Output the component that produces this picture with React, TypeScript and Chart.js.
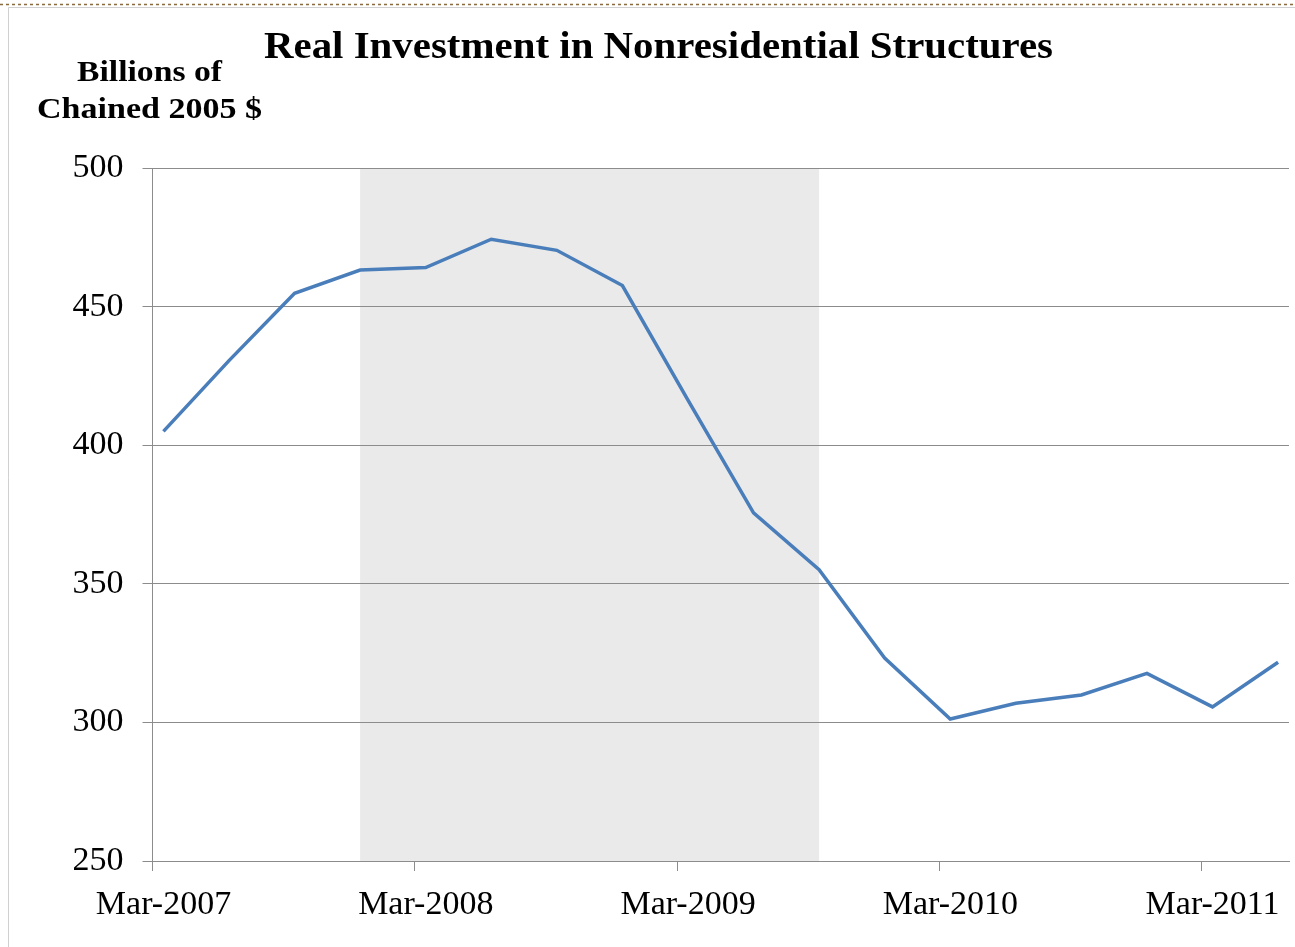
import React, { useEffect, useRef } from "react";
import { Chart, registerables } from "chart.js";

Chart.register(...registerables);

const quarters = [
  "Mar-2007", "Jun-2007", "Sep-2007", "Dec-2007",
  "Mar-2008", "Jun-2008", "Sep-2008", "Dec-2008",
  "Mar-2009", "Jun-2009", "Sep-2009", "Dec-2009",
  "Mar-2010", "Jun-2010", "Sep-2010", "Dec-2010",
  "Mar-2011", "Jun-2011",
];
const investment = [
  405.0, 430.5, 454.8, 463.2,
  464.1, 474.3, 470.3, 457.6,
  416.3, 375.6, 355.1, 323.2,
  301.2, 306.9, 309.9, 317.7,
  305.6, 321.7,
];
const tickLabels = ["Mar-2007", "Mar-2008", "Mar-2009", "Mar-2010", "Mar-2011"];
const recessionStart = "Dec-2007";
const recessionEnd = "Sep-2009";
const yTicks = [250, 300, 350, 400, 450, 500];

const titleText = "Real Investment in Nonresidential Structures";
const yTitleLines = ["Billions of", "Chained 2005 $"];

// month index (0 = March 2007) of the middle of a quarter-end month
const monthCenter = (label: string) => quarters.indexOf(label) * 3 + 0.5;
const monthStart = (label: string) => quarters.indexOf(label) * 3;

const SERIF = '"Liberation Serif", "Times New Roman", serif';

function drawFit(
  ctx: CanvasRenderingContext2D,
  text: string,
  left: number,
  right: number,
  baseline: number
) {
  const w = ctx.measureText(text).width;
  ctx.save();
  ctx.textAlign = "left";
  ctx.textBaseline = "alphabetic";
  ctx.translate(left, baseline);
  ctx.scale((right - left) / w, 1);
  ctx.fillText(text, 0, 0);
  ctx.restore();
}

const decorPlugin = {
  id: "decor",
  beforeDraw(chart: any) {
    const { ctx, chartArea, scales } = chart;
    const x = scales.x;
    ctx.save();
    ctx.fillStyle = "#ffffff";
    ctx.fillRect(0, 0, chart.width, chart.height);
    // recession shading
    const x0 = x.getPixelForValue(monthCenter(recessionStart));
    const x1 = x.getPixelForValue(monthCenter(recessionEnd));
    ctx.fillStyle = "#EAEAEA";
    ctx.fillRect(x0, chartArea.top, x1 - x0, chartArea.bottom - chartArea.top);
    ctx.restore();
  },
  afterDraw(chart: any) {
    const { ctx } = chart;
    ctx.save();
    // frame
    ctx.strokeStyle = "#8B6A3E";
    ctx.lineWidth = 1.5;
    ctx.setLineDash([3, 3]);
    ctx.beginPath();
    ctx.moveTo(0, 4.5);
    ctx.lineTo(chart.width, 4.5);
    ctx.stroke();
    ctx.setLineDash([]);
    ctx.strokeStyle = "#D0D0D0";
    ctx.lineWidth = 1;
    ctx.beginPath();
    ctx.moveTo(8.5, chart.height);
    ctx.lineTo(8.5, 7.5);
    ctx.lineTo(chart.width, 7.5);
    ctx.stroke();
    // title
    ctx.fillStyle = "#000000";
    ctx.font = `bold 38px ${SERIF}`;
    drawFit(ctx, titleText, 264, 1053, 58);
    // y axis title
    ctx.font = `bold 30px ${SERIF}`;
    drawFit(ctx, yTitleLines[0], 77, 222, 81);
    drawFit(ctx, yTitleLines[1], 37, 262, 118);
    ctx.restore();
  },
};

export default function App() {
  const ref = useRef<HTMLCanvasElement>(null);

  useEffect(() => {
    if (!ref.current) return;
    const points = quarters.map((q, i) => ({ x: monthCenter(q), y: investment[i] }));
    const tickMonths = tickLabels.map(monthStart);
    const gridColor = "#8C8C8C";
    const chart = new Chart(ref.current, {
      type: "line",
      data: {
        datasets: [
          {
            label: "Real Investment in Nonresidential Structures",
            data: points,
            borderColor: "#4A7EBB",
            borderWidth: 3.5,
            pointRadius: 0,
            tension: 0,
            fill: false,
          },
        ],
      },
      options: {
        responsive: false,
        animation: false,
        events: [],
        layout: { padding: { top: 168, left: 0, right: 6, bottom: 0 } },
        plugins: {
          legend: { display: false },
          title: { display: false },
          tooltip: { enabled: false },
        },
        scales: {
          x: {
            type: "linear",
            min: 0,
            max: 52,
            afterBuildTicks: (scale: any) => {
              scale.ticks = tickMonths.map((v) => ({ value: v }));
            },
            afterFit: (scale: any) => {
              scale.height = 86;
            },
            grid: {
              drawOnChartArea: false,
              drawTicks: true,
              tickLength: 10,
              color: gridColor,
            },
            border: { display: true, color: gridColor },
            ticks: {
              autoSkip: false,
              maxRotation: 0,
              padding: 14,
              labelOffset: 11,
              color: "#000000",
              font: { family: SERIF, size: 34 },
              callback: (value: any) => {
                const i = tickMonths.indexOf(Number(value));
                return i >= 0 ? tickLabels[i] : "";
              },
            },
          },
          y: {
            type: "linear",
            min: 250,
            max: 500,
            afterBuildTicks: (scale: any) => {
              scale.ticks = yTicks.map((v) => ({ value: v }));
            },
            afterFit: (scale: any) => {
              scale.width = 152.5;
            },
            grid: {
              color: gridColor,
              lineWidth: 1,
              drawTicks: true,
              tickLength: 10,
            },
            border: { display: true, color: gridColor },
            ticks: {
              padding: 19,
              color: "#000000",
              font: { family: SERIF, size: 34 },
              callback: (value: any) => String(value),
            },
          },
        },
      },
      plugins: [decorPlugin],
    });
    return () => chart.destroy();
  }, []);

  return (
    <div style={{ position: "absolute", left: 0, top: 0, width: 1295, height: 947 }}>
      <canvas ref={ref} width={1295} height={947} style={{ display: "block" }} />
    </div>
  );
}
